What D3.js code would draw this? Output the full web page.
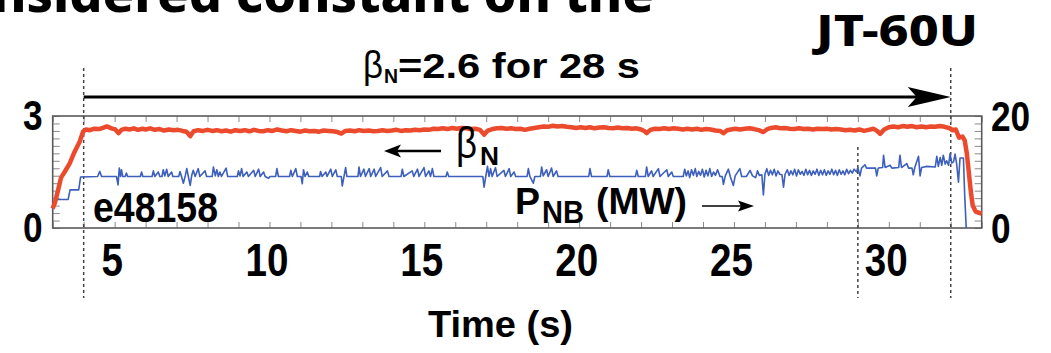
<!DOCTYPE html>
<html>
<head>
<meta charset="utf-8">
<script src="https://cdn.jsdelivr.net/npm/d3@7/dist/d3.min.js"></script>
<style>
  html, body { margin: 0; padding: 0; background: #fff; }
  svg { display: block; }
  text { font-family: "Liberation Sans", Arial, sans-serif; font-weight: bold; fill: #000; }
</style>
</head>
<body>
<div id="chart"></div>
<script>
// tick labels
const timeTicks = [5, 10, 15, 20, 25, 30];
const betaTicks = [0, 3];
const pnbTicks = [0, 20];
// vertical dotted markers (s)
const markerTimes = [4, 29, 32];

// beta_N vs time (s)
const betaN = [
  [3.00,0.52],[3.08,0.70],[3.17,1.00],[3.27,1.35],[3.40,1.52],[3.55,1.73],[3.70,2.03],[3.87,2.31],[3.98,2.58],[4.08,2.64],
  [4.2,2.62],[4.35,2.66],[4.5,2.65],[4.62,2.68],[4.75,2.72],[4.9,2.67],[5.02,2.64],[5.13,2.54],[5.22,2.63],[5.35,2.66],
  [5.5,2.64],[5.62,2.67],[5.75,2.63],[5.9,2.66],[6.0,2.64],[6.15,2.67],[6.3,2.63],[6.45,2.65],[6.6,2.61],[6.75,2.64],
  [6.9,2.62],[7.05,2.63],[7.2,2.6],[7.32,2.58],[7.44,2.46],[7.55,2.59],[7.7,2.62],[7.85,2.6],[8.0,2.63],[8.15,2.6],
  [8.3,2.62],[8.45,2.59],[8.6,2.61],[8.75,2.58],[8.9,2.62],[9.05,2.6],[9.2,2.62],[9.35,2.59],[9.5,2.63],[9.65,2.6],
  [9.8,2.59],[9.95,2.62],[10.1,2.6],[10.25,2.64],[10.4,2.61],[10.55,2.59],[10.7,2.62],[10.85,2.6],[11.0,2.58],[11.15,2.61],
  [11.3,2.59],[11.45,2.6],[11.6,2.58],[11.75,2.61],[11.9,2.6],[12.05,2.59],[12.2,2.57],[12.32,2.53],[12.45,2.6],[12.6,2.61],
  [12.75,2.59],[12.9,2.62],[13.05,2.6],[13.2,2.61],[13.35,2.59],[13.5,2.6],[13.65,2.62],[13.8,2.6],[13.95,2.61],[14.1,2.63],
  [14.25,2.6],[14.4,2.62],[14.55,2.61],[14.7,2.63],[14.85,2.62],[15.0,2.64],[15.15,2.63],[15.3,2.66],[15.45,2.65],[15.6,2.67],
  [15.75,2.65],[15.9,2.68],[16.05,2.66],[16.2,2.68],[16.35,2.67],[16.5,2.65],[16.65,2.66],[16.8,2.63],[16.93,2.5],[17.05,2.61],
  [17.2,2.65],[17.35,2.67],[17.5,2.68],[17.65,2.66],[17.8,2.67],[17.95,2.65],[18.1,2.66],[18.25,2.63],[18.4,2.66],[18.55,2.68],
  [18.7,2.7],[18.85,2.72],[19.0,2.71],[19.15,2.74],[19.3,2.72],[19.45,2.73],[19.6,2.71],[19.75,2.7],[19.9,2.68],[20.05,2.7],
  [20.2,2.68],[20.35,2.7],[20.5,2.67],[20.65,2.69],[20.8,2.7],[20.95,2.68],[21.1,2.67],[21.25,2.69],[21.4,2.67],[21.55,2.68],
  [21.7,2.66],[21.85,2.67],[22.0,2.64],[22.1,2.6],[22.18,2.54],[22.3,2.63],[22.45,2.66],[22.6,2.65],[22.75,2.67],[22.9,2.65],
  [23.05,2.67],[23.2,2.66],[23.35,2.64],[23.5,2.66],[23.65,2.64],[23.8,2.66],[23.95,2.63],[24.1,2.65],[24.25,2.64],[24.4,2.61],
  [24.55,2.6],[24.66,2.54],[24.78,2.62],[24.9,2.64],[25.05,2.66],[25.2,2.64],[25.35,2.66],[25.5,2.67],[25.65,2.65],[25.8,2.62],
  [25.95,2.57],[26.08,2.65],[26.2,2.68],[26.35,2.7],[26.5,2.67],[26.65,2.68],[26.8,2.66],[26.95,2.65],[27.1,2.67],[27.25,2.65],
  [27.4,2.66],[27.55,2.64],[27.7,2.66],[27.85,2.65],[28.0,2.66],[28.15,2.64],[28.3,2.65],[28.45,2.64],[28.6,2.62],[28.75,2.63],
  [28.9,2.61],[29.05,2.64],[29.2,2.6],[29.35,2.63],[29.5,2.66],[29.62,2.6],[29.72,2.52],[29.85,2.64],[30.0,2.7],[30.15,2.72],
  [30.3,2.7],[30.45,2.73],[30.6,2.71],[30.75,2.73],[30.9,2.7],[31.05,2.72],[31.2,2.7],[31.35,2.72],[31.5,2.71],[31.65,2.73],
  [31.8,2.71],[31.95,2.68],[32.05,2.62],[32.16,2.64],[32.27,2.42],[32.38,2.45],[32.45,2.35],[32.52,2.0],[32.57,1.6],[32.62,1.2],
  [32.66,0.9],[32.71,0.6],[32.8,0.45],[32.9,0.41],[33.0,0.39]
];

// P_NB (MW) vs time (s)
const pNB = [
  [3.0,3.3],[3.08,5.1],[3.5,5.1],[3.56,6.8],[3.84,6.8],[3.9,9.1],[4.45,9.2],[4.52,10.1],[4.58,9.2],[5.06,9.2],
  [5.11,7.7],[5.15,10.7],[5.19,9.2],[5.22,10.4],[5.26,9.2],[5.34,9.2],[5.38,9.8],[5.42,9.2],[5.83,9.2],[5.87,10.0],
  [5.91,9.2],[6.21,9.2],[6.25,10.2],[6.3,9.2],[6.41,10.0],[6.46,9.2],[6.53,9.2],[6.57,10.4],[6.62,9.3],[6.68,10.5],
  [6.73,9.2],[6.84,10.0],[6.88,9.2],[7.07,9.2],[7.11,10.1],[7.16,9.2],[7.22,8.0],[7.28,9.3],[7.33,10.6],[7.38,9.2],
  [7.44,7.6],[7.49,9.4],[7.54,10.3],[7.6,9.2],[7.7,10.6],[7.75,9.2],[7.92,10.2],[7.97,9.2],[8.15,9.2],[8.19,10.9],
  [8.25,9.3],[8.3,10.4],[8.35,9.2],[8.4,10.0],[8.45,9.2],[8.6,10.7],[8.65,9.2],[8.96,9.2],[9.0,10.2],[9.05,9.3],
  [9.1,10.6],[9.15,9.2],[9.27,10.0],[9.32,9.2],[9.49,10.3],[9.54,9.2],[9.65,10.5],[9.7,9.2],[9.81,10.0],[9.86,9.2],
  [9.97,8.9],[10.02,9.2],[10.2,9.2],[10.24,10.6],[10.29,9.2],[10.65,9.2],[10.69,10.3],[10.74,9.2],[10.85,10.6],[10.9,9.2],
  [11.02,9.2],[11.06,7.9],[11.1,10.4],[11.15,9.2],[11.22,10.0],[11.27,9.2],[11.62,9.2],[11.65,10.1],[11.7,9.2],[11.82,10.0],
  [11.86,9.2],[11.98,10.5],[12.03,9.2],[12.14,10.4],[12.19,9.2],[12.32,9.2],[12.35,7.5],[12.4,9.0],[12.46,10.8],[12.5,9.2],
  [12.86,9.2],[12.89,10.9],[12.94,9.2],[13.05,10.5],[13.1,9.2],[13.22,10.6],[13.27,9.2],[13.38,10.5],[13.43,9.2],[13.59,10.8],
  [13.64,9.2],[13.81,10.2],[13.86,9.2],[14.25,9.2],[14.29,10.5],[14.34,9.2],[14.61,10.2],[14.66,9.2],[14.78,10.5],[14.83,9.2],
  [14.99,10.8],[15.04,9.2],[15.15,10.2],[15.2,9.2],[15.26,10.6],[15.31,9.2],[15.7,9.2],[15.74,10.0],[15.79,9.2],[16.89,9.2],
  [16.93,7.3],[16.99,9.4],[17.04,11.0],[17.09,9.2],[17.14,10.6],[17.19,9.2],[17.3,10.8],[17.35,9.2],[17.57,10.3],[17.62,9.2],
  [17.74,10.6],[17.79,9.2],[17.9,10.0],[17.95,9.2],[18.32,9.2],[18.36,10.6],[18.41,9.2],[18.52,8.0],[18.57,9.2],[18.75,9.2],
  [18.79,10.9],[18.84,9.3],[18.95,10.4],[19.0,9.2],[19.11,10.7],[19.16,9.2],[19.27,10.2],[19.32,9.2],[20.31,9.2],[20.35,10.6],
  [20.4,9.2],[20.9,9.2],[20.94,10.4],[20.99,9.2],[21.82,9.2],[21.86,10.3],[21.91,9.2],[22.14,9.2],[22.18,10.9],[22.23,9.2],
  [22.34,10.2],[22.39,9.2],[22.56,10.6],[22.61,9.2],[22.83,10.4],[22.88,9.2],[22.99,10.0],[23.04,9.2],[23.36,9.2],[23.41,10.5],
  [23.46,9.3],[23.52,10.2],[23.57,9.0],[23.63,10.4],[23.69,9.4],[23.75,10.6],[23.8,9.2],[23.86,10.1],[23.92,9.4],[23.98,10.5],
  [24.04,9.1],[24.1,10.3],[24.16,9.3],[24.22,10.6],[24.28,9.2],[24.34,10.0],[24.4,9.4],[24.47,10.4],[24.55,9.2],[24.62,9.2],
  [24.66,7.8],[24.72,9.3],[24.82,10.5],[24.88,9.2],[24.98,7.6],[25.04,9.3],[25.19,10.6],[25.25,9.2],[25.4,9.2],[25.52,10.3],
  [25.6,9.3],[25.7,9.0],[25.76,10.2],[25.82,9.4],[25.9,9.5],[25.95,5.9],[26.0,9.6],[26.06,10.6],[26.12,9.4],[26.18,10.3],
  [26.24,9.5],[26.3,10.5],[26.36,9.3],[26.42,10.2],[26.48,9.6],[26.55,9.5],[26.6,7.3],[26.65,9.6],[26.72,10.4],[26.78,9.4],
  [26.84,10.2],[26.9,9.5],[26.96,10.5],[27.02,9.3],[27.08,10.4],[27.14,9.6],[27.2,10.1],[27.26,9.4],[27.32,10.5],[27.38,9.5],
  [27.44,10.3],[27.5,9.4],[27.56,10.2],[27.62,9.6],[27.68,10.5],[27.74,9.4],[27.8,10.3],[27.86,9.5],[27.92,10.4],[27.98,9.4],
  [28.04,10.2],[28.1,9.6],[28.16,10.5],[28.22,9.5],[28.28,10.3],[28.34,9.4],[28.4,10.4],[28.46,9.6],[28.52,10.2],[28.58,9.5],
  [28.64,10.5],[28.7,9.7],[28.76,10.3],[28.82,9.8],[28.88,10.5],[28.96,10.0],[29.0,10.8],[29.07,9.3],[29.12,10.7],[29.23,11.3],
  [29.28,10.7],[29.57,10.7],[29.61,9.3],[29.66,10.7],[29.8,10.8],[29.83,13.0],[29.88,10.8],[30.04,11.2],[30.1,10.7],[30.32,10.8],
  [30.36,13.0],[30.41,10.8],[30.58,11.5],[30.64,10.7],[30.75,10.7],[30.79,9.5],[30.84,10.8],[30.96,12.8],[31.01,9.3],[31.06,10.8],
  [31.23,11.0],[31.5,10.9],[31.55,12.8],[31.6,11.0],[31.66,12.6],[31.71,11.2],[31.76,13.0],[31.82,11.4],[31.87,12.0],[31.93,11.2],
  [31.98,13.3],[32.03,11.6],[32.09,11.8],[32.14,13.2],[32.19,11.5],[32.25,8.2],[32.3,12.5],[32.41,12.5],[32.45,6.0],[32.5,0]
];

// I. Default
const svgW = 1051, svgH = 353;
const box = { left: 52.7, right: 981.7, top: 116, bottom: 228 };
const condensed = 'scale(0.84,1)';

// II. svg
const svg = d3.select('#chart')
  .append('svg')
    .attr('width', svgW)
    .attr('height', svgH)
    .attr('viewBox', `0 0 ${svgW} ${svgH}`);

// III. scales
const x = d3.scaleLinear().domain([3, 33]).range([box.left, box.right]);
const yB = d3.scaleLinear().domain([0, 3]).range([box.bottom, box.top]);
const yP = d3.scaleLinear().domain([0, 20]).range([box.bottom, box.top]);

// IV. minor ticks on all four sides (pointing inward)
const minor = (g) => {
  g.select('.domain').remove();
  g.selectAll('.tick line').attr('stroke', '#8a8a8a').attr('stroke-width', 1);
  g.selectAll('.tick text').remove();
};
svg.append('g').attr('transform', `translate(0,${box.top})`)
  .call(d3.axisBottom(x).ticks(30).tickSize(6).tickFormat('')).call(minor);
svg.append('g').attr('transform', `translate(0,${box.bottom})`)
  .call(d3.axisTop(x).ticks(30).tickSize(6).tickFormat('')).call(minor);
svg.append('g').attr('transform', `translate(${box.left},0)`)
  .call(d3.axisRight(yB).ticks(15).tickSize(7).tickFormat('')).call(minor);
svg.append('g').attr('transform', `translate(${box.right},0)`)
  .call(d3.axisLeft(yB).ticks(15).tickSize(7).tickFormat('')).call(minor);

// frame
svg.append('rect')
  .attr('x', box.left).attr('y', box.top)
  .attr('width', box.right - box.left).attr('height', box.bottom - box.top)
  .attr('fill', 'none').attr('stroke', '#5a5a5a').attr('stroke-width', 1.6);

// V. labelled axes
const labels = (size) => (g) => {
  g.select('.domain').remove();
  g.selectAll('.tick line').remove();
  g.selectAll('.tick text')
    .attr('font-size', size)
    .attr('font-family', '"Liberation Sans", Arial, sans-serif')
    .attr('font-weight', 'bold')
    .attr('fill', '#000')
    .attr('transform', condensed);
};
svg.append('g').attr('transform', `translate(-3,${box.bottom})`)
  .call(d3.axisBottom(x).tickValues(timeTicks).tickSize(0).tickPadding(15).tickFormat(d3.format('d'))).call(labels(46));
svg.append('g').attr('transform', `translate(${box.left},0)`)
  .call(d3.axisLeft(yB).tickValues(betaTicks).tickSize(0).tickPadding(12).tickFormat(d3.format('d'))).call(labels(42));
svg.append('g').attr('transform', `translate(${box.right},1)`)
  .call(d3.axisRight(yP).tickValues(pnbTicks).tickSize(0).tickPadding(11).tickFormat(d3.format('d'))).call(labels(42));

// dotted markers
svg.selectAll('line.marker')
  .data(markerTimes)
  .enter().append('line')
    .attr('class', 'marker')
    .attr('x1', d => x(d)).attr('x2', d => x(d))
    .attr('y1', d => d === 29 ? 147 : 68)
    .attr('y2', 298)
    .attr('stroke', '#444').attr('stroke-width', 1.5)
    .attr('stroke-dasharray', '3,3');

// VI. lines
const lineB = d3.line().x(d => x(d[0])).y(d => yB(d[1]));
const lineP = d3.line().x(d => x(d[0])).y(d => yP(d[1]));

svg.append('path')
  .datum(pNB)
  .attr('d', lineP)
  .attr('fill', 'none')
  .attr('stroke', '#3d5fbd')
  .attr('stroke-width', 1.6)
  .attr('stroke-linejoin', 'round');

svg.append('path')
  .datum(betaN)
  .attr('d', lineB)
  .attr('fill', 'none')
  .attr('stroke', '#ec4a2c')
  .attr('stroke-width', 4.5)
  .attr('stroke-linejoin', 'round');

// VII. annotations
const txt = (x0, y0, s, size, opts = {}) => {
  const t = svg.append('text')
    .attr('x', x0).attr('y', y0)
    .attr('font-size', size)
    .text(s);
  if (opts.len) t.attr('textLength', opts.len).attr('lengthAdjust', 'spacingAndGlyphs');
  if (opts.anchor) t.attr('text-anchor', opts.anchor);
  if (opts.family) t.style('font-family', opts.family);
  if (opts.weight) t.style('font-weight', opts.weight);
  return t;
};

// slide title fragment cut by the top edge
txt(-8, 12, 'nsidered constant on the', 50, { len: 662, family: '"Noto Sans", "DejaVu Sans", sans-serif', weight: 800 });
txt(816, 46, 'JT-60U', 43, { len: 162, family: '"Noto Sans", "DejaVu Sans", sans-serif', weight: 800 });

// beta_N = 2.6 for 28 s
txt(363, 78, 'β', 38, { len: 20, weight: 'normal' });
txt(384, 83, 'N', 21, { len: 14 });
txt(398, 78, '=2.6 for 28 s', 35, { len: 242 });

// long arrow
svg.append('line')
  .attr('x1', x(4)).attr('x2', x(32) - 30)
  .attr('y1', 97).attr('y2', 97)
  .attr('stroke', '#000').attr('stroke-width', 3);
svg.append('path')
  .attr('d', `M${x(32)},97 L${x(32) - 43},87 L${x(32) - 34},97 L${x(32) - 43},107 Z`)
  .attr('fill', '#000');

// beta_N label with left arrow
txt(456, 158, 'β', 44, { len: 21, weight: 'normal' });
txt(480, 165, 'N', 25, { len: 19 });
svg.append('line')
  .attr('x1', 441).attr('x2', 396).attr('y1', 151).attr('y2', 151)
  .attr('stroke', '#000').attr('stroke-width', 2.5);
svg.append('path')
  .attr('d', 'M384,151 L401,144.5 L397,151 L401,157.5 Z')
  .attr('fill', '#000');

// e48158
txt(93, 222, 'e48158', 42, { len: 125 });

// P_NB (MW) with right arrow
txt(515, 214, 'P', 36, { len: 25 });
txt(542, 223, 'NB', 31, { len: 42 });
txt(596, 214, '(MW)', 36, { len: 91 });
svg.append('line')
  .attr('x1', 702).attr('x2', 742).attr('y1', 206).attr('y2', 206)
  .attr('stroke', '#000').attr('stroke-width', 1.5);
svg.append('path')
  .attr('d', 'M754,206 L738,200.5 L741,206 L738,211.5 Z')
  .attr('fill', '#000');

// x axis title
txt(428, 337, 'Time (s)', 37, { len: 145 });
</script>
</body>
</html>
